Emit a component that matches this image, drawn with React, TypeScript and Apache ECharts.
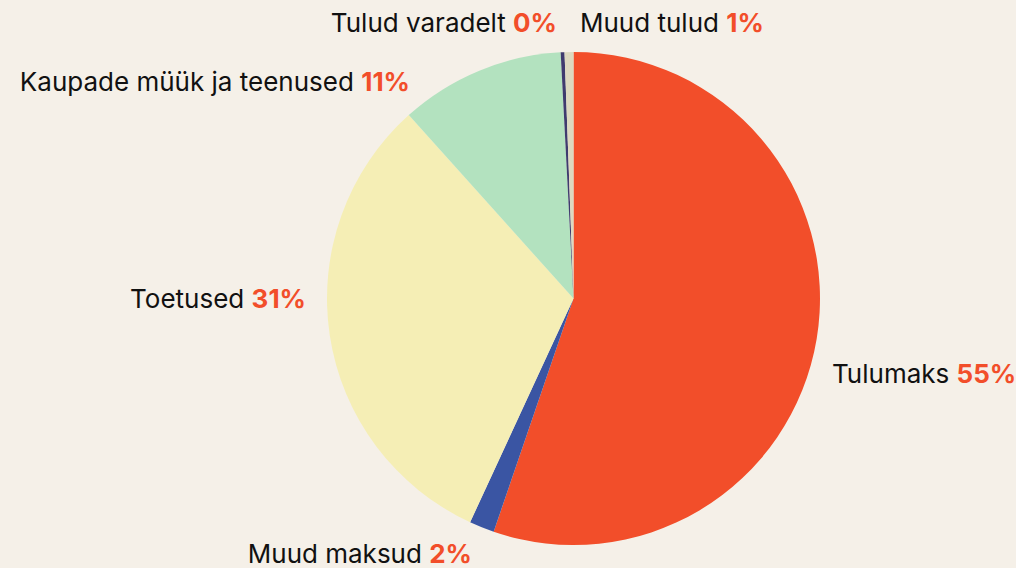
import React, { useEffect, useRef } from "react";
import * as echarts from "echarts";

const categories = [
  "Tulumaks",
  "Muud maksud",
  "Toetused",
  "Kaupade müük ja teenused",
  "Tulud varadelt",
  "Muud tulud",
];
const values = [55.26, 1.64, 31.47, 10.82, 0.25, 0.58];
const colors = ["#f24e2a", "#3a55a3", "#f5eeb5", "#b3e2bf", "#3f3b6e", "#ddd9c0"];

// label anchor placement (x, y, align)
const labelPlacement: [number, number, "left" | "right"][] = [
  [832, 373, "left"],
  [472, 553, "right"],
  [306, 298, "right"],
  [410, 81, "right"],
  [557, 22, "right"],
  [580, 22, "left"],
];

export default function App() {
  const ref = useRef<HTMLDivElement>(null);
  useEffect(() => {
    if (!ref.current) return;
    const chart = echarts.init(ref.current, undefined, { renderer: "svg" });
    chart.setOption({
      animation: false,
      backgroundColor: "#f5f0e8",
      series: [
        {
          type: "pie",
          center: [573.5, 298.5],
          radius: 246.5,
          startAngle: 90,
          clockwise: true,
          percentPrecision: 0,
          avoidLabelOverlap: false,
          data: categories.map((name, i) => ({
            name,
            value: values[i],
            itemStyle: { color: colors[i] },
          })),
          itemStyle: { borderWidth: 0 },
          label: {
            show: true,
            position: "outside",
            formatter: "{n|{b} }{p|{d}%}",
            rich: {
              n: { fontFamily: "Inter", fontSize: 26, color: "#111111" },
              p: { fontFamily: "Inter", fontSize: 26, fontWeight: "bold", color: "#f24e2a" },
            },
          },
          labelLine: { show: false },
          labelLayout: (params: any) => {
            const p = labelPlacement[params.dataIndex];
            return { x: p[0], y: p[1], align: p[2], verticalAlign: "middle" };
          },
          emphasis: { disabled: true },
        },
      ],
    });
    return () => chart.dispose();
  }, []);
  return (
    <div
      ref={ref}
      style={{ position: "absolute", left: 0, top: 0, width: 1016, height: 568 }}
    />
  );
}
